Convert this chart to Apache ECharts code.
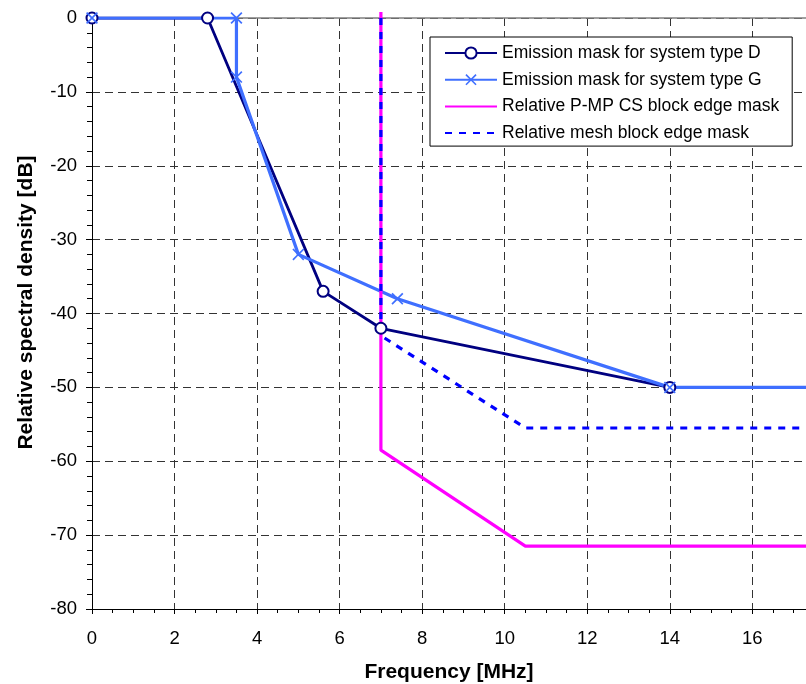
<!DOCTYPE html>
<html>
<head>
<meta charset="utf-8">
<script src="https://cdn.jsdelivr.net/npm/echarts@6/dist/echarts.min.js"></script>
<style>
  html, body { margin: 0; padding: 0; background: #fff; }
  #chart { width: 806px; height: 684px; }
</style>
</head>
<body>
<div id="chart"></div>
<script>
// values
const maskD = [[0, 0], [2.8, 0], [5.6, -37], [7, -42], [14, -50]];
const maskG = [[0, 0], [3.5, 0], [3.5, -8], [5, -32], [7.4, -38], [14, -50], [17.3, -50]];
const pmpMask = [[7, 0.8], [7, -58.5], [10.5, -71.5], [17.3, -71.5]];
const meshMask = [[7, 0], [7, -43], [10.5, -55.5], [17.3, -55.5]];

const names = [
  'Emission mask for system type D',
  'Emission mask for system type G',
  'Relative P-MP CS block edge mask',
  'Relative mesh block edge mask'
];

const crossPath = 'path://M0,1L1,0L5,4L9,0L10,1L6,5L10,9L9,10L5,6L1,10L0,9L4,5Z';
const font = '"Liberation Sans", Arial, sans-serif';
const gridDash = { color: '#333', width: 1, type: [8, 5] };

// last G point runs to the edge of the plot, no marker there
const maskGData = maskG.map((p, i) =>
  i === maskG.length - 1 ? { value: p, symbol: 'none' } : p
);

let chart = echarts.init(document.getElementById('chart'));

let options = {
  animation: false,
  textStyle: { fontFamily: font },
  grid: { left: 92, right: 0, top: 18, bottom: 75, containLabel: false, outerBoundsMode: 'none' },
  legend: {
    orient: 'vertical',
    left: 430,
    top: 37,
    padding: [7, 13, 4, 14],
    backgroundColor: '#fff',
    borderColor: '#000',
    borderWidth: 1,
    borderRadius: 0,
    itemWidth: 52,
    itemHeight: 14,
    itemGap: 8.7,
    textStyle: { fontSize: 17.5, color: '#000', lineHeight: 18, fontFamily: font },
    data: [
      names[0],
      names[1],
      { name: names[2], itemStyle: { opacity: 0 } },
      { name: names[3], itemStyle: { opacity: 0 } }
    ]
  },
  xAxis: [
    {
      type: 'value',
      min: 0,
      max: 17.3,
      interval: 2,
      name: 'Frequency [MHz]',
      nameLocation: 'middle',
      nameGap: 53,
      nameTextStyle: { fontSize: 21, fontWeight: 'bold', color: '#000', fontFamily: font },
      axisLine: { show: true, onZero: false, lineStyle: { color: '#000', width: 1 } },
      axisTick: { show: true, inside: false, length: 5, lineStyle: { color: '#000' } },
      minorTick: { show: true, splitNumber: 4, length: 4, lineStyle: { color: '#000' } },
      axisLabel: { fontSize: 18.5, color: '#000', margin: 20, showMaxLabel: false },
      splitLine: { show: true, lineStyle: gridDash }
    },
    {
      type: 'value',
      position: 'top',
      min: 0,
      max: 17.3,
      axisLine: { show: true, lineStyle: { color: '#808080', width: 1.5 } },
      axisTick: { show: false },
      axisLabel: { show: false },
      splitLine: { show: false }
    }
  ],
  yAxis: {
    type: 'value',
    min: -80,
    max: 0,
    interval: 10,
    name: 'Relative spectral density [dB]',
    nameLocation: 'middle',
    nameGap: 55,
    nameTextStyle: { fontSize: 21, fontWeight: 'bold', color: '#000', fontFamily: font, padding: [0, 0, 0, 22] },
    axisLine: { show: true, onZero: false, lineStyle: { color: '#000', width: 1 } },
    axisTick: { show: true, inside: false, length: 6, lineStyle: { color: '#000' } },
    minorTick: { show: true, splitNumber: 5, length: 5, lineStyle: { color: '#000' } },
    axisLabel: { fontSize: 18.5, color: '#000', margin: 15 },
    splitLine: { show: true, lineStyle: gridDash }
  },
  series: [
    {
      name: names[0],
      type: 'line',
      data: maskD,
      color: '#000080',
      symbol: 'emptyCircle',
      symbolSize: 11,
      itemStyle: { borderWidth: 1.5 },
      lineStyle: { width: 2.8, color: '#000080' }
    },
    {
      name: names[1],
      type: 'line',
      data: maskGData,
      color: '#3f6fff',
      symbol: crossPath,
      symbolSize: 12,
      showAllSymbol: true,
      lineStyle: { width: 3.2, color: '#3f6fff' }
    },
    {
      name: names[2],
      type: 'line',
      data: pmpMask,
      color: '#ff00ff',
      symbol: 'none',
      clip: false,
      lineStyle: { width: 3.2, color: '#ff00ff' }
    },
    {
      name: names[3],
      type: 'line',
      data: meshMask,
      color: '#0000ff',
      symbol: 'none',
      lineStyle: { width: 3.2, color: '#0000ff', type: [7, 7] }
    }
  ]
};

chart.setOption(options);
</script>
</body>
</html>
